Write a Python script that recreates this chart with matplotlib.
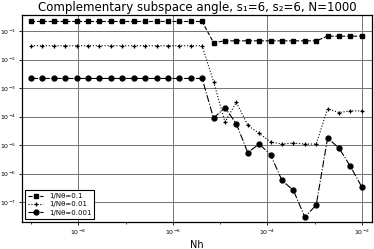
import numpy as np
import matplotlib

matplotlib.use("Agg")
import matplotlib.pyplot as plt
from matplotlib import ticker

# Nh values: 30 points, log-spaced from 1e-9 to 1e-2
nh = np.logspace(-9, -2, 30)

err_01 = [0.22] * 16 + [0.040] + [0.046] * 9 + [0.067] * 4
err_001 = [0.031] * 16 + [1.7e-3, 6.5e-5, 3.2e-4, 5e-5, 2.6e-5, 1.3e-5, 1.1e-5,
                          1.2e-5, 1.1e-5, 1.1e-5, 1.9e-4, 1.4e-4, 1.6e-4, 1.6e-4]
err_0001 = [0.0022] * 16 + [8.9e-5, 2.1e-4, 5.6e-5, 5.5e-6, 1.1e-5, 4.6e-6, 5.8e-7,
                            2.6e-7, 3e-8, 8e-8, 1.8e-5, 7.9e-6, 1.8e-6, 3.4e-7]
labels = ["1/N\u03b8=0.1", "1/N\u03b8=0.01", "1/N\u03b8=0.001"]

fig = plt.figure(figsize=(3.74, 2.49), dpi=100)
ax = fig.add_axes([0.058, 0.108, 0.937, 0.832])

ax.loglog(nh, err_01, "k--", marker="s", ms=3, lw=0.8, label=labels[0])
ax.loglog(nh, err_001, "k:", marker="+", ms=3.5, mew=0.9, lw=0.8, label=labels[1])
ax.loglog(nh, err_0001, "k-.", marker="o", ms=3.5, lw=0.8, label=labels[2])

ax.set_xlim(6.35e-10, 0.0165)
ax.set_ylim(2.0e-8, 0.373)
ax.set_xticks([1e-8, 1e-6, 1e-4, 1e-2])
ax.set_xticks([1e-9, 1e-7, 1e-5, 1e-3], minor=True)
ax.set_yticks([10.0 ** e for e in range(-7, 0)])
ax.yaxis.set_minor_locator(ticker.NullLocator())
ax.xaxis.set_minor_formatter(ticker.NullFormatter())
ax.tick_params(which="major", labelsize=4.5, length=2.5, width=0.6, pad=1.5)
ax.tick_params(which="minor", length=1.5, width=0.5)

ax.grid(True, which="major", color="0.45", lw=0.7)
for s in ax.spines.values():
    s.set_linewidth(0.9)

ax.set_title("Complementary subspace angle, s\u2081=6, s\u2082=6, N=1000", fontsize=8.5, pad=3)
ax.set_xlabel("Nh", fontsize=7, labelpad=2)

leg = ax.legend(loc="lower left", fontsize=5, fancybox=False, edgecolor="k",
                framealpha=1, borderpad=0.4, labelspacing=0.35, handlelength=2.2)
leg.get_frame().set_linewidth(0.8)

fig.savefig("out.png", dpi=100)
plt.close(fig)
